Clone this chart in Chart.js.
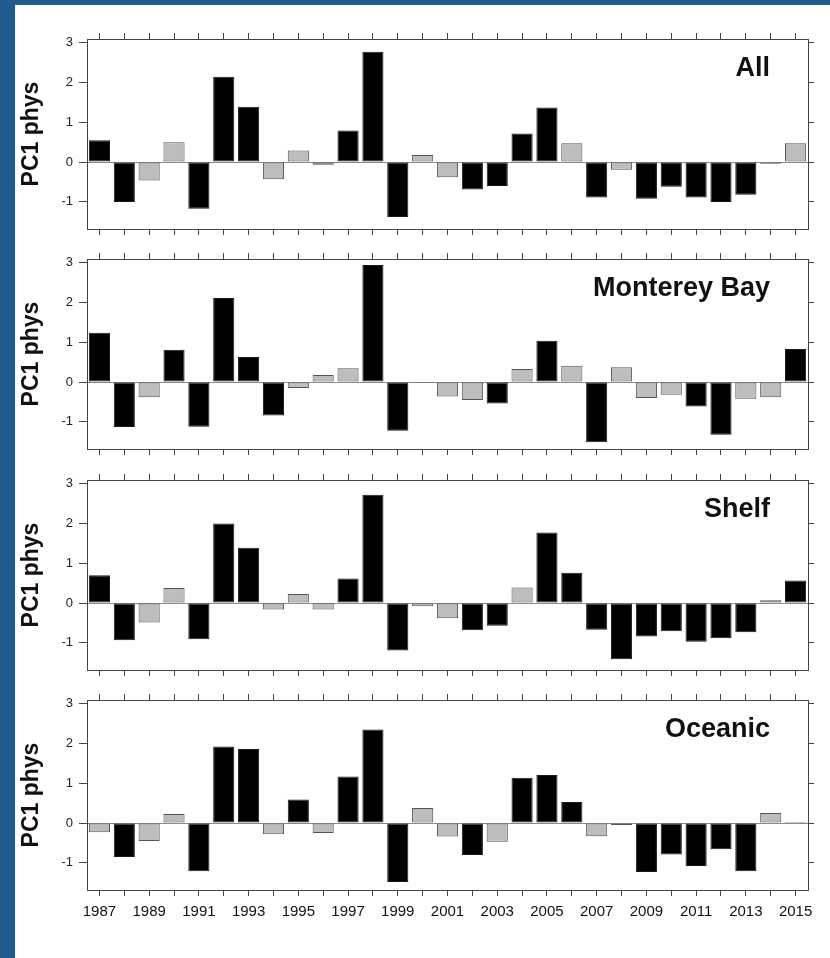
<!DOCTYPE html>
<html>
<head>
<meta charset="utf-8">
<script src="https://cdn.jsdelivr.net/npm/chart.js@4.4.1/dist/chart.umd.min.js"></script>
<style>
  body { margin: 0; background: #1f5b8e; width: 830px; height: 958px; overflow: hidden; position: relative; }
  #sheet { position: absolute; left: 15px; top: 5px; width: 815px; height: 953px; background: #fff; }
  canvas { position: absolute; left: 0; }
</style>
</head>
<body>
<div id="sheet"></div>
<canvas id="pAll" width="830" height="240" style="top:9px"></canvas>
<canvas id="pMonterey" width="830" height="240" style="top:229px"></canvas>
<canvas id="pShelf" width="830" height="240" style="top:450px"></canvas>
<canvas id="pOceanic" width="830" height="260" style="top:670px"></canvas>
<script>
// Years on the x axis
const years = [];
for (let y = 1987; y <= 2015; y++) years.push(String(y));

// PC1 phys values per region
const allVals = [0.55, -1.0, -0.46, 0.5, -1.17, 2.14, 1.39, -0.43, 0.29, -0.07, 0.79, 2.77, -1.38, 0.18, -0.38,
                 -0.69, -0.6, 0.72, 1.37, 0.47, -0.89, -0.19, -0.92, -0.62, -0.89, -1.0, -0.82, -0.04, 0.47];
const montereyVals = [1.24, -1.13, -0.38, 0.81, -1.12, 2.11, 0.63, -0.84, -0.15, 0.18, 0.35, 2.94, -1.22, -0.02, -0.36,
                      -0.45, -0.54, 0.33, 1.04, 0.41, -1.51, 0.37, -0.4, -0.32, -0.61, -1.32, -0.42, -0.38, 0.83];
const shelfVals = [0.7, -0.93, -0.49, 0.38, -0.91, 2.0, 1.39, -0.16, 0.23, -0.16, 0.62, 2.72, -1.19, -0.08, -0.38,
                   -0.68, -0.57, 0.39, 1.77, 0.76, -0.67, -1.41, -0.84, -0.71, -0.97, -0.88, -0.73, 0.07, 0.57];
const oceanicVals = [-0.23, -0.85, -0.45, 0.23, -1.21, 1.92, 1.86, -0.28, 0.59, -0.25, 1.17, 2.35, -1.48, 0.38, -0.34,
                     -0.8, -0.47, 1.14, 1.21, 0.53, -0.33, -0.05, -1.23, -0.79, -1.08, -0.66, -1.21, 0.25, 0.03];

// 1 = black bar, 0 = grey bar
const allSig =      [1,1,0,0,1,1,1,0,0,0,1,1,1,0,0,1,1,1,1,0,1,0,1,1,1,1,1,0,0];
const montereySig = [1,1,0,1,1,1,1,1,0,0,0,1,1,0,0,0,1,0,1,0,1,0,0,0,1,1,0,0,1];
const shelfSig =    [1,1,0,0,1,1,1,0,0,0,1,1,1,0,0,1,1,0,1,1,1,1,1,1,1,1,1,0,1];
const oceanicSig =  [0,1,0,0,1,1,1,0,1,0,1,1,1,0,0,1,0,1,1,1,0,0,1,1,1,1,1,0,1];

const yTicks = [-1, 0, 1, 2, 3];
const yMin = -1.68, yMax = 3.09;

const FONT = '"Liberation Sans", Arial, Helvetica, sans-serif';
const BOX = '#444';

// Draws the region name in the upper right of the plot
const panelLabel = {
    id: 'panelLabel',
    afterDraw(chart, args, opts) {
        const { ctx, chartArea } = chart;
        ctx.save();
        ctx.font = 'bold 27px ' + FONT;
        ctx.fillStyle = '#111';
        ctx.textAlign = 'right';
        ctx.textBaseline = 'alphabetic';
        ctx.fillText(opts.text, chartArea.right - 38, chartArea.top + 37);
        ctx.restore();
    }
};

function makePanel(id, name, values, sig, showYears) {
    const canvasH = document.getElementById(id).height;
    const bottomH = canvasH - 30 - 190;

    new Chart(document.getElementById(id), {
        type: 'bar',
        data: {
            labels: years,
            datasets: [{
                data: values,
                backgroundColor: sig.map(s => s ? '#000000' : '#bdbdbd'),
                borderColor: sig.map(s => s ? '#1a1a1a' : '#555555'),
                borderWidth: 1,
                borderSkipped: false,
                barPercentage: 0.85,
                categoryPercentage: 1.0,
                xAxisID: 'x',
                yAxisID: 'y'
            }]
        },
        plugins: [panelLabel],
        options: {
            responsive: false,
            animation: false,
            devicePixelRatio: 1,
            layout: { padding: 0 },
            plugins: {
                legend: { display: false },
                tooltip: { enabled: false },
                panelLabel: { text: name }
            },
            scales: {
                x: {
                    type: 'category',
                    position: 'bottom',
                    offset: true,
                    grid: { offset: false, drawOnChartArea: false, drawTicks: true, tickLength: 6, tickColor: BOX },
                    border: { display: true, color: BOX, width: 1 },
                    ticks: {
                        display: showYears,
                        autoSkip: false,
                        maxRotation: 0,
                        padding: 7,
                        color: '#111',
                        font: { family: FONT, size: 15 },
                        callback: function (val, i) { return i % 2 === 0 ? this.getLabelForValue(val) : ''; }
                    },
                    afterFit: s => { s.height = bottomH; }
                },
                xTop: {
                    type: 'category',
                    position: 'top',
                    offset: true,
                    grid: { offset: false, drawOnChartArea: false, drawTicks: true, tickLength: 6, tickColor: BOX },
                    border: { display: true, color: BOX, width: 1 },
                    ticks: { display: false, autoSkip: false },
                    afterFit: s => { s.height = 30; }
                },
                y: {
                    type: 'linear',
                    position: 'left',
                    min: yMin,
                    max: yMax,
                    afterBuildTicks: s => { s.ticks = yTicks.map(v => ({ value: v })); },
                    grid: {
                        drawOnChartArea: true,
                        drawTicks: true,
                        tickLength: 8,
                        tickColor: BOX,
                        color: c => (c.tick && c.tick.value === 0) ? '#8a8a8a' : 'rgba(0,0,0,0)'
                    },
                    border: { display: true, color: BOX, width: 1 },
                    ticks: { padding: 6, color: '#222', font: { family: FONT, size: 13 } },
                    title: {
                        display: true,
                        text: 'PC1 phys',
                        color: '#111',
                        font: { family: FONT, size: 23, weight: 'bold' },
                        padding: { top: 18, bottom: 0 }
                    },
                    afterFit: s => { s.width = 87; }
                },
                yRight: {
                    type: 'linear',
                    position: 'right',
                    min: yMin,
                    max: yMax,
                    afterBuildTicks: s => { s.ticks = yTicks.map(v => ({ value: v })); },
                    grid: { drawOnChartArea: false, drawTicks: true, tickLength: 6, tickColor: BOX },
                    border: { display: true, color: BOX, width: 1 },
                    ticks: { display: false },
                    afterFit: s => { s.width = 22; }
                }
            }
        }
    });
}

makePanel('pAll', 'All', allVals, allSig, false);
makePanel('pMonterey', 'Monterey Bay', montereyVals, montereySig, false);
makePanel('pShelf', 'Shelf', shelfVals, shelfSig, false);
makePanel('pOceanic', 'Oceanic', oceanicVals, oceanicSig, true);
</script>
</body>
</html>
